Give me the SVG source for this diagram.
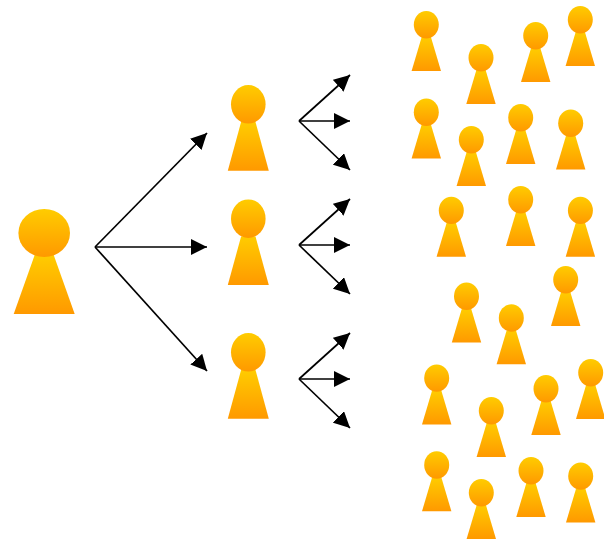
<svg xmlns="http://www.w3.org/2000/svg" xmlns:xlink="http://www.w3.org/1999/xlink" width="604" height="539" viewBox="0 0 604 539">
<style>
.c{fill:none;stroke:#000;stroke-width:1.7;marker-end:url(#a)}
.f{fill:url(#g)}
</style>
<defs>
<linearGradient id="g" x1="0" y1="0" x2="0" y2="1"><stop offset="0" stop-color="#ffcc00"/><stop offset="1" stop-color="#ff9900"/></linearGradient>
<marker id="a" markerUnits="userSpaceOnUse" markerWidth="16" markerHeight="16" refX="16" refY="8" orient="auto" viewBox="0 0 16 16"><path d="M0,0L16,8L0,16Z" fill="#000"/></marker>
<g id="s"><path class="f" d="M-4.6,26L4.6,26L14.7,60L-14.7,60Z"/><ellipse class="f" cx="0" cy="13.7" rx="12.5" ry="13.7"/></g>
<g id="m"><path class="f" d="M-7.2,37L7.2,37L20.5,85.7L-20.5,85.7Z"/><ellipse class="f" cx="0" cy="19.3" rx="17.3" ry="19.3"/></g>
<g id="l"><path class="f" d="M-9.5,46L9.5,46L30.5,105L-30.5,105Z"/><ellipse class="f" cx="0" cy="24" rx="25.8" ry="24"/></g>
</defs>
<g id="connectors">
<path class="c" d="M95,247L207,133"/><path class="c" d="M95,247L207,247"/><path class="c" d="M95,247L207,371"/>
<path class="c" d="M299,121L350,75"/><path class="c" d="M299,121L350,121"/><path class="c" d="M299,121L350,170"/>
<path class="c" d="M299,245L350,199"/><path class="c" d="M299,245L350,245"/><path class="c" d="M299,245L350,294"/>
<path class="c" d="M299,379L350,333"/><path class="c" d="M299,379L350,379"/><path class="c" d="M299,379L350,428"/>
</g>
<g id="root"><use href="#l" x="44.2" y="209"/></g>
<g id="mid1"><use href="#m" x="248.3" y="85"/></g>
<g id="mid2"><use href="#m" x="248.3" y="199.4"/></g>
<g id="mid3"><use href="#m" x="248.3" y="333"/></g>
<g id="p1"><use href="#s" x="426.3" y="11"/></g>
<g id="p2"><use href="#s" x="481" y="44"/></g>
<g id="p3"><use href="#s" x="535.7" y="22"/></g>
<g id="p4"><use href="#s" x="580.3" y="6"/></g>
<g id="p5"><use href="#s" x="426.3" y="98.6"/></g>
<g id="p6"><use href="#s" x="471.3" y="126"/></g>
<g id="p7"><use href="#s" x="520.7" y="104"/></g>
<g id="p8"><use href="#s" x="570.7" y="109.5"/></g>
<g id="p9"><use href="#s" x="451.3" y="196.7"/></g>
<g id="p10"><use href="#s" x="520.7" y="186"/></g>
<g id="p11"><use href="#s" x="580.4" y="196.7"/></g>
<g id="p12"><use href="#s" x="466.5" y="282.6"/></g>
<g id="p13"><use href="#s" x="511.3" y="304.3"/></g>
<g id="p14"><use href="#s" x="565.7" y="266"/></g>
<g id="p15"><use href="#s" x="436.7" y="364.4"/></g>
<g id="p16"><use href="#s" x="491.3" y="397"/></g>
<g id="p17"><use href="#s" x="546" y="375"/></g>
<g id="p18"><use href="#s" x="590.7" y="359"/></g>
<g id="p19"><use href="#s" x="436.7" y="451.3"/></g>
<g id="p20"><use href="#s" x="481.3" y="479"/></g>
<g id="p21"><use href="#s" x="531" y="457"/></g>
<g id="p22"><use href="#s" x="580.7" y="462.4"/></g>
</svg>
